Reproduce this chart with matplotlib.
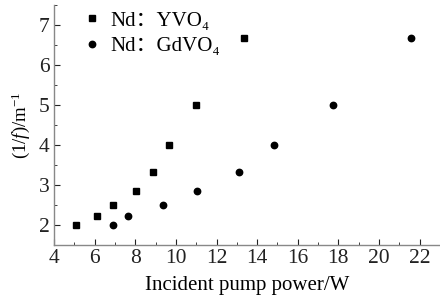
import matplotlib
matplotlib.use("Agg")
import matplotlib.pyplot as plt
from matplotlib.ticker import MultipleLocator

plt.rcParams['font.family'] = ['Liberation Serif', 'Noto Sans CJK SC', 'DejaVu Serif']
plt.rcParams['mathtext.fontset'] = 'custom'
plt.rcParams['mathtext.rm'] = 'Liberation Serif'
plt.rcParams['mathtext.it'] = 'Liberation Serif:italic'

# Data
yvo4_power = [5.08, 6.14, 6.89, 8.03, 8.85, 9.67, 10.98, 13.36]
yvo4_inv_f = [2.0, 2.22, 2.5, 2.86, 3.33, 4.0, 5.0, 6.67]
gdvo4_power = [6.89, 7.66, 9.35, 11.02, 13.12, 14.82, 17.74, 21.59]
gdvo4_inv_f = [2.0, 2.22, 2.5, 2.86, 3.33, 4.0, 5.0, 6.67]
x_ticks = [4, 6, 8, 10, 12, 14, 16, 18, 20, 22]
y_ticks = [2, 3, 4, 5, 6, 7]

fig = plt.figure(figsize=(4.4, 2.98), dpi=100)
ax = fig.add_axes([0.1227, 0.178, 0.8773, 0.805])

ax.plot(yvo4_power, yvo4_inv_f, 's', color='black', markersize=4.3, label='Nd：YVO₄')
ax.plot(gdvo4_power, gdvo4_inv_f, 'o', color='black', markersize=4.6, label='Nd：GdVO₄')

ax.set_xlim(4, 23)
ax.set_ylim(1.5, 7.5)
ax.set_xticks(x_ticks)
ax.set_yticks(y_ticks)
ax.xaxis.set_minor_locator(MultipleLocator(1))
ax.yaxis.set_minor_locator(MultipleLocator(0.5))
ax.tick_params(which='both', direction='in', labelsize=15.5, colors='#222222', pad=3)
ax.tick_params(which='major', length=4)
ax.tick_params(which='minor', length=2.5)

for s in ['top', 'right']:
    ax.spines[s].set_visible(False)
for s in ['left', 'bottom']:
    ax.spines[s].set_color('#888888')
    ax.spines[s].set_linewidth(1.0)

ax.set_xlabel('Incident pump power/W', fontsize=15, labelpad=6)
ax.set_ylabel('(1/$f$)/m$^{\\mathrm{-1}}$', fontsize=13.5, labelpad=5)

ax.legend(loc='upper left', bbox_to_anchor=(0.05, 1.01), frameon=False, fontsize=15,
          handletextpad=0.4, borderaxespad=0, labelspacing=0.28, handlelength=1.0)

fig.savefig('out.png', dpi=100)
